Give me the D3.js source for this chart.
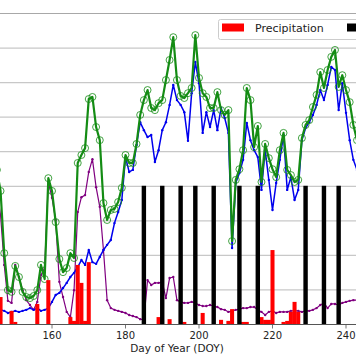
<!DOCTYPE html>
<html><head><meta charset="utf-8">
<script src="https://cdn.jsdelivr.net/npm/d3@7"></script>
<style>html,body{margin:0;padding:0;background:#fff;overflow:hidden}svg{display:block;font-family:"DejaVu Sans",sans-serif}</style>
</head><body><svg id="c" width="356" height="364"></svg>
<script>
// Day of year for the first value in each daily series
const startDay = 145;
// Green series (circles)
const greenVals = [4.46,3.85,2.05,0.98,0.93,1.68,1.36,0.93,0.78,0.75,0.81,0.98,1.71,1.30,4.22,3.85,2.95,1.88,1.50,1.62,2.05,1.91,4.66,4.89,5.09,6.51,6.57,5.70,5.32,3.50,3.01,3.30,3.33,3.53,3.94,4.89,4.66,4.66,5.21,6.05,6.48,6.77,6.25,6.19,6.39,6.48,7.06,7.64,8.30,7.06,6.60,6.54,6.68,6.83,8.36,7.12,6.68,6.57,6.25,6.25,6.71,6.19,6.05,6.19,2.40,4.17,4.48,5.03,6.83,6.48,5.12,5.73,4.11,5.21,4.80,4.48,4.25,5.03,5.53,4.46,4.31,4.11,4.17,5.38,5.76,5.90,6.28,6.63,7.29,6.83,7.35,7.73,7.93,6.86,7.20,6.77,6.42,5.76,5.32];
// Blue series
const blueVals = [0.41,0.41,0.38,0.32,0.35,0.38,0.35,0.38,0.41,0.46,0.41,0.46,0.38,0.41,0.46,0.64,0.84,0.90,1.04,1.19,1.36,1.48,1.65,1.85,1.71,2.14,1.79,1.74,1.94,2.14,2.29,2.43,2.92,3.24,3.59,4.83,4.40,4.46,5.18,5.84,5.61,5.41,5.47,4.69,5.03,5.61,5.84,6.34,6.92,6.48,6.34,6.13,5.30,6.68,7.58,6.97,5.53,6.13,5.70,6.19,5.61,6.25,5.96,5.53,2.20,4.08,4.37,4.75,5.82,5.32,5.03,4.83,3.88,5.03,4.17,3.30,4.08,4.75,5.47,3.88,4.25,3.59,3.88,5.32,5.67,5.84,6.05,6.34,6.77,6.48,6.92,7.44,7.35,6.19,6.97,6.11,5.32,4.75,4.46];
// Purple series
const purpleVals = [3.88,3.15,1.71,0.67,0.61,1.71,1.36,0.98,0.69,0.55,0.41,0.64,1.42,1.62,4.11,3.65,3.01,1.22,0.78,0.35,0.20,0.98,3.24,3.67,3.73,4.40,4.77,3.96,3.39,2.14,0.69,0.46,0.41,0.38,0.35,0.32,0.26,0.23,0.20,0.14,0.12,1.27,1.13,1.19,1.19,1.22,0.75,1.33,1.36,0.69,0.64,0.61,0.61,0.64,0.61,0.55,0.52,0.52,0.55,0.52,0.49,0.43,0.41,0.35,0.38,0.41,0.43,0.46,0.46,0.49,0.49,0.41,0.35,0.26,0.35,0.38,0.32,0.35,0.35,0.35,0.38,0.38,0.38,0.35,0.38,0.38,0.41,0.46,0.55,0.61,0.46,0.58,0.58,0.55,0.61,0.64,0.67,0.69,0.69];
// Precipitation bars
const precipDays = [146,149,150,156,159,165,166,167,168,169,170,189,192,196,201,206,208,209,212,213,217,218,219,220,223,224,225,226,227];
const precipVals = [0.78,0.38,0.06,0.58,1.27,0.20,0.09,1.71,1.19,0.09,1.79,0.20,0.14,0.06,0.32,0.12,0.09,0.43,0.06,0.06,0.20,0.12,0.12,2.14,0.06,0.09,0.35,0.64,0.35];
// Second bar series (black)
const blackDays = [185,190,195,199,204,211,216,229,234,238];
const blackVals = [4,4,4,4,4,4,4,4,4,4];
// Axis ticks and labels
const xTicks = [160,180,200,220,240];
const yGrid = [0,1,2,3,4,5,6,7,8,9];
const xLabel = "Day of Year (DOY)";
const legendLabels = ["Precipitation"];

const svg = d3.select("#c");
const x = d3.scaleLinear().domain([160,240]).range([52,346]);
const y = d3.scaleLinear().domain([0,9]).range([324,13]);

// grid
svg.append("g").selectAll("line").data(yGrid.filter(v=>v>0)).join("line")
  .attr("x1",0).attr("x2",356).attr("y1",d=>y(d)+0.5).attr("y2",d=>y(d)+0.5)
  .attr("stroke",d=>d===9?"#a8a8a8":"#c8c8c8").attr("stroke-width",1.2);

function series(vals){ return vals.map((v,i)=>({d:startDay+i,v})); }
const lineGen = d3.line().x(p=>x(p.d)).y(p=>y(p.v));

function drawLine(vals,color,w,marker){
  const data = series(vals);
  svg.append("path").datum(data).attr("d",lineGen).attr("fill","none")
    .attr("stroke",color).attr("stroke-width",w).attr("stroke-linejoin","round");
  const g = svg.append("g");
  if(marker==="o"){
    g.selectAll("circle").data(data).join("circle").attr("cx",p=>x(p.d)).attr("cy",p=>y(p.v))
      .attr("r",3.5).attr("fill","none").attr("stroke",color).attr("stroke-opacity",0.8).attr("stroke-width",1);
  } else {
    g.selectAll("circle").data(data).join("circle").attr("cx",p=>x(p.d)).attr("cy",p=>y(p.v))
      .attr("r",1.2).attr("fill",color);
  }
}
drawLine(purpleVals,"#800080",1.2,"dot");
drawLine(blueVals,"#0000ee",1.5,"dot");
drawLine(greenVals,"#148c14",2.2,"o");

// bars
const bw = x(161)-x(160);
svg.append("g").selectAll("rect").data(precipDays.map((d,i)=>({d,v:precipVals[i]}))).join("rect")
  .attr("x",p=>x(p.d)-bw*0.55).attr("width",bw*1.1)
  .attr("y",p=>y(p.v)).attr("height",p=>y(0)-y(p.v)).attr("fill","#ff0000");
svg.append("g").selectAll("rect").data(blackDays.map((d,i)=>({d,v:blackVals[i]}))).join("rect")
  .attr("x",p=>x(p.d)-bw*0.6).attr("width",bw*1.2)
  .attr("y",p=>y(p.v)).attr("height",p=>y(0)-y(p.v)).attr("fill","#000");

// x axis
const ax = svg.append("g").attr("transform",`translate(0,${y(0)})`);
ax.append("line").attr("x1",0).attr("x2",356).attr("y1",0.5).attr("y2",0.5).attr("stroke","#555").attr("stroke-width",1);
ax.selectAll(".t").data(xTicks).join("line").attr("x1",d=>x(d)).attr("x2",d=>x(d)).attr("y1",1).attr("y2",4.5).attr("stroke","#777");
ax.selectAll("text").data(xTicks).join("text").attr("x",d=>x(d)).attr("y",14.5)
  .attr("text-anchor","middle").attr("font-size",10).attr("fill","#222").text(d=>d);
svg.append("text").attr("x",177).attr("y",352).attr("text-anchor","middle").attr("font-size",10.5).attr("fill","#222").text(xLabel);

// legend
const lg = svg.append("g");
lg.append("rect").attr("x",218.5).attr("y",19.5).attr("width",160).attr("height",20).attr("rx",2)
  .attr("fill","#fff").attr("fill-opacity",0.85).attr("stroke","#cccccc");
lg.append("rect").attr("x",222).attr("y",23.5).attr("width",22).attr("height",8).attr("fill","#ff0000");
lg.append("text").attr("x",255).attr("y",31.5).attr("font-size",11).attr("fill","#222").text(legendLabels[0]);
lg.append("rect").attr("x",347).attr("y",23.5).attr("width",22).attr("height",8).attr("fill","#000");
</script></body></html>
